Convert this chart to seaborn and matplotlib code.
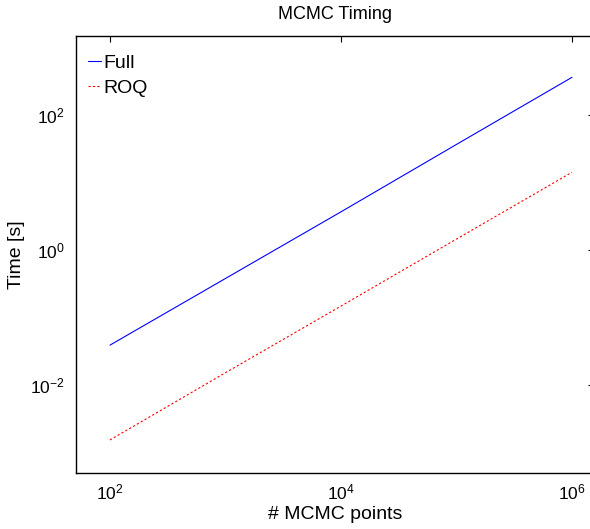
import matplotlib
matplotlib.use("Agg")
import matplotlib.pyplot as plt
import seaborn as sns
import pandas as pd
from matplotlib.ticker import FixedLocator, LogFormatterSciNotation, NullLocator

mcmc_points = [1e2, 1e3, 1e4, 1e5, 1e6]
time_full = [0.039, 0.38, 3.7, 37.0, 366.0]
time_roq = [0.00153, 0.0152, 0.148, 1.46, 14.3]
x_ticks = [1e2, 1e4, 1e6]
y_ticks = [1e-2, 1e0, 1e2]

df = pd.DataFrame({
    "N": mcmc_points * 2,
    "t": time_full + time_roq,
    "method": ["Full"] * len(mcmc_points) + ["ROQ"] * len(mcmc_points),
})

sns.set_theme(style="white")
plt.rcParams["font.family"] = ["Liberation Sans", "DejaVu Sans"]
plt.rcParams["mathtext.fontset"] = "custom"
plt.rcParams["mathtext.rm"] = "Liberation Sans"
plt.rcParams["mathtext.it"] = "Liberation Sans:italic"
plt.rcParams["mathtext.bf"] = "Liberation Sans:bold"
plt.rcParams["text.color"] = "black"
plt.rcParams["axes.labelcolor"] = "black"

fig = plt.figure(figsize=(5.9, 5.29), dpi=100)
ax = fig.add_axes([76/590, 1 - 472.7/529, (594 - 76)/590, (472.7 - 36)/529])

sns.lineplot(data=df, x="N", y="t", hue="method", style="method",
             palette={"Full": "#0000ff", "ROQ": "#ff0000"},
             dashes={"Full": "", "ROQ": (2, 2)}, linewidth=0.8, ax=ax)

ax.set_xscale("log")
ax.set_yscale("log")
ax.set_xlim(50.8, 1.55e6)
ax.set_ylim(5e-4, 1500)
ax.xaxis.set_major_locator(FixedLocator(x_ticks))
ax.yaxis.set_major_locator(FixedLocator(y_ticks))
ax.xaxis.set_major_formatter(LogFormatterSciNotation())
ax.yaxis.set_major_formatter(LogFormatterSciNotation())
ax.xaxis.set_minor_locator(NullLocator())
ax.yaxis.set_minor_locator(NullLocator())
ax.tick_params(which="major", direction="in", length=4.5, width=0.8,
               top=True, right=True, labelsize=12.5, colors="black")
ax.tick_params(axis="x", pad=7)
ax.tick_params(axis="y", pad=8)
for s in ax.spines.values():
    s.set_color("black")
    s.set_linewidth(1.0)

ax.set_title("MCMC Timing", fontsize=13, pad=12.5)
ax.set_xlabel("# MCMC points", fontsize=14, labelpad=3)
ax.set_ylabel("Time [s]", fontsize=14, labelpad=4)

leg = ax.legend(loc="upper left", bbox_to_anchor=(0.0, 0.985), frameon=False,
                fontsize=14, handlelength=0.65, handletextpad=0.12,
                borderaxespad=0.35, labelspacing=0.35, borderpad=0.27)

fig.savefig("out.png", dpi=100)
